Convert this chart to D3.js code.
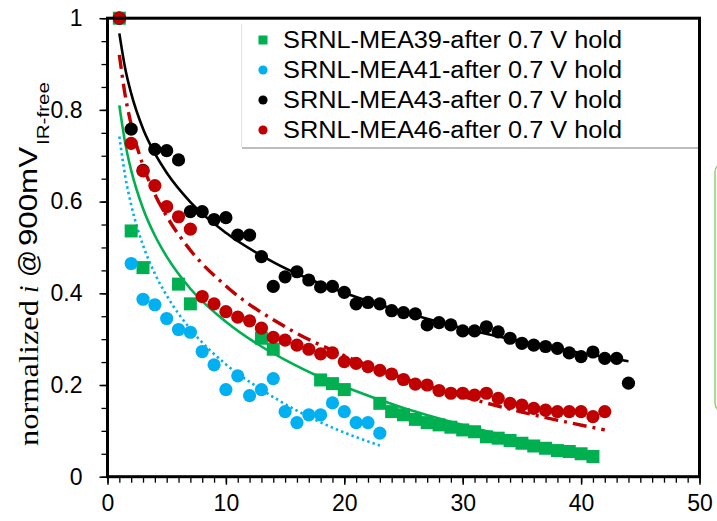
<!DOCTYPE html>
<html><head><meta charset="utf-8">
<script src="https://cdn.jsdelivr.net/npm/d3@7"></script>
<style>html,body{margin:0;padding:0;background:#fff;}svg{display:block;}</style>
</head><body>
<svg id="chart" width="717" height="521"></svg>
<script>
// ---- data ----
const seriesNames = ["SRNL-MEA39-after 0.7 V hold","SRNL-MEA41-after 0.7 V hold","SRNL-MEA43-after 0.7 V hold","SRNL-MEA46-after 0.7 V hold"];
const mea39X = [1,2,3,6,7,13,14,18,19,20,23,24,25,26,27,28,29,30,31,32,33,34,35,36,37,38,39,40,41];
const mea39Y = [1.0,0.536,0.456,0.42,0.377,0.302,0.278,0.211,0.203,0.19,0.16,0.142,0.135,0.125,0.118,0.113,0.108,0.102,0.098,0.087,0.084,0.079,0.073,0.067,0.062,0.057,0.055,0.05,0.044];
const mea41X = [1,2,3,4,5,6,7,8,9,10,11,12,13,14,15,16,17,18,19,20,21,22,23];
const mea41Y = [1.0,0.465,0.387,0.375,0.345,0.321,0.315,0.273,0.244,0.19,0.22,0.177,0.19,0.214,0.142,0.118,0.135,0.135,0.161,0.142,0.118,0.118,0.095];
const mea43X = [1,2,3,4,5,6,7,8,9,10,11,12,13,14,15,16,17,18,19,20,21,22,23,24,25,26,27,28,29,30,31,32,33,34,35,36,37,38,39,40,41,42,43,44];
const mea43Y = [1.0,0.758,0.668,0.714,0.711,0.691,0.578,0.578,0.561,0.565,0.527,0.527,0.48,0.415,0.436,0.447,0.429,0.414,0.415,0.402,0.377,0.38,0.377,0.362,0.358,0.355,0.331,0.336,0.331,0.318,0.318,0.327,0.316,0.302,0.291,0.287,0.284,0.28,0.27,0.262,0.272,0.258,0.258,0.204];
const mea46X = [1,2,3,4,5,6,7,8,9,10,11,12,13,14,15,16,17,18,19,20,21,22,23,24,25,26,27,28,29,30,31,32,33,34,35,36,37,38,39,40,41,42];
const mea46Y = [1.0,0.727,0.667,0.635,0.589,0.567,0.54,0.393,0.377,0.36,0.348,0.34,0.324,0.304,0.298,0.287,0.278,0.268,0.27,0.251,0.247,0.24,0.232,0.224,0.212,0.202,0.2,0.188,0.182,0.182,0.178,0.182,0.171,0.16,0.156,0.149,0.145,0.142,0.142,0.142,0.131,0.142];
// trend lines, values
const trend39X = [1,1.5,2,3,4,5,7,10,13,15,18,20,25,30,35,41];
const trend39Y = [0.81,0.727,0.668,0.585,0.526,0.48,0.41,0.338,0.284,0.255,0.217,0.196,0.15,0.113,0.081,0.049];
const trend41X = [1,1.5,2,3,4,5,7,10,13,16,19,23];
const trend41Y = [0.742,0.655,0.593,0.505,0.443,0.395,0.322,0.245,0.19,0.144,0.107,0.068];
const trend43X = [1,1.5,2,3,4,5,7,10,14,20,25,30,35,40,44];
const trend43Y = [0.967,0.89,0.836,0.759,0.705,0.663,0.599,0.532,0.468,0.401,0.359,0.324,0.295,0.27,0.252];
const trend46X = [1,1.5,2,3,4,5,7,10,15,20,25,30,35,42];
const trend46Y = [0.92,0.831,0.768,0.679,0.616,0.568,0.494,0.416,0.327,0.264,0.215,0.175,0.141,0.102];
const xMajorTicks = [0,10,20,30,40,50];
const yMajorTicks = [0,0.2,0.4,0.6,0.8,1];
const yTickLabels = ["0","0.2","0.4","0.6","0.8","1"];

const colors = ["#00b050","#00b0f0","#000000","#c00000"];

const svg = d3.select("#chart");
const x = d3.scaleLinear().domain([0,50]).range([107.5,699.5]);
const y = d3.scaleLinear().domain([0,1]).range([476.7,18.2]);

// decorative green box at right edge
svg.append("rect").attr("x",715).attr("y",163).attr("width",40).attr("height",249).attr("rx",9)
  .attr("fill","none").attr("stroke","#8fd16f").attr("stroke-width",1.5);

// axes
const fontSans = "'Liberation Sans', Arial, sans-serif";
const fontSerif = "'Liberation Serif', 'Times New Roman', serif";
const xMinor = d3.axisBottom(x).tickValues(d3.range(0,51,1)).tickSize(6).tickFormat("");
svg.append("g").attr("transform",`translate(0,${y(0)})`).call(xMinor)
  .call(g=>g.select(".domain").remove()).selectAll("line").attr("stroke","#000").attr("stroke-width",1.3);
const xMajor = d3.axisBottom(x).tickValues(xMajorTicks).tickSize(8).tickPadding(10).tickFormat(d3.format("d"));
svg.append("g").attr("transform",`translate(0,${y(0)})`).call(xMajor)
  .call(g=>g.select(".domain").remove())
  .call(g=>g.selectAll("line").attr("stroke","#000").attr("stroke-width",1.5))
  .call(g=>g.selectAll("text").attr("font-family",fontSans).attr("font-size",23).attr("fill","#000"));

const yMinor = d3.axisLeft(y).tickValues(d3.range(0,21).map(i=>i*0.05)).tickSize(6).tickFormat("");
svg.append("g").attr("transform",`translate(${x(0)},0)`).call(yMinor)
  .call(g=>g.select(".domain").remove()).selectAll("line").attr("stroke","#000").attr("stroke-width",1.3);
const yMajor = d3.axisLeft(y).tickValues(yMajorTicks).tickSize(8).tickPadding(17)
  .tickFormat((d,i)=>yTickLabels[i]);
svg.append("g").attr("transform",`translate(${x(0)},0)`).call(yMajor)
  .call(g=>g.select(".domain").remove())
  .call(g=>g.selectAll("line").attr("stroke","#000").attr("stroke-width",1.5))
  .call(g=>g.selectAll("text").attr("font-family",fontSans).attr("font-size",23).attr("fill","#000"));

// legend box (behind the markers)
const lg = svg.append("g");
lg.append("rect").attr("x",242).attr("y",26).attr("width",457).attr("height",123).attr("fill","#bdbdbd");
lg.append("rect").attr("x",241).attr("y",24).attr("width",458).attr("height",123).attr("fill","#fff");
lg.append("line").attr("x1",241.5).attr("x2",241.5).attr("y1",24).attr("y2",147).attr("stroke","#e2e2e2");

// trend lines
const line = d3.line().x(d=>x(d[0])).y(d=>y(d[1])).curve(d3.curveMonotoneX);
const trends = [
  {xs:trend39X, ys:trend39Y, c:colors[0], w:2.6, dash:null},
  {xs:trend41X, ys:trend41Y, c:colors[1], w:2.6, dash:"2.4 3.2"},
  {xs:trend43X, ys:trend43Y, c:colors[2], w:2.6, dash:null},
  {xs:trend46X, ys:trend46Y, c:colors[3], w:3.4, dash:"14 6 3 6"}
];
trends.forEach(t=>{
  svg.append("path").datum(t.xs.map((v,i)=>[v,t.ys[i]]))
    .attr("d",line).attr("fill","none").attr("stroke",t.c).attr("stroke-width",t.w)
    .attr("stroke-dasharray",t.dash);
});

// markers
const sq = 13, r = 6.6;
svg.append("g").selectAll("rect").data(mea39X.map((v,i)=>[v,mea39Y[i]])).join("rect")
  .attr("x",d=>x(d[0])-sq/2).attr("y",d=>y(d[1])-sq/2).attr("width",sq).attr("height",sq).attr("fill",colors[0]);
[[mea41X,mea41Y,colors[1]],[mea43X,mea43Y,colors[2]],[mea46X,mea46Y,colors[3]]].forEach(([xs,ys,c])=>{
  svg.append("g").selectAll("circle").data(xs.map((v,i)=>[v,ys[i]])).join("circle")
    .attr("cx",d=>x(d[0])).attr("cy",d=>y(d[1])).attr("r",r).attr("fill",c);
});

// frame
svg.append("rect").attr("x",x(0)).attr("y",y(1)).attr("width",x(50)-x(0)).attr("height",y(0)-y(1))
  .attr("fill","none").attr("stroke","#000").attr("stroke-width",3);

// legend content
const rowY = [40,70,100,130];
seriesNames.forEach((name,i)=>{
  const g = svg.append("g");
  if(i===0){
    g.append("rect").attr("x",263-4.5).attr("y",rowY[i]-4.5).attr("width",9).attr("height",9).attr("fill",colors[i]);
  } else {
    g.append("circle").attr("cx",263).attr("cy",rowY[i]).attr("r",4.6).attr("fill",colors[i]);
  }
  g.append("text").attr("x",283).attr("y",rowY[i]).attr("dy","0.36em")
    .attr("font-family",fontSans).attr("font-size",23).attr("fill","#000")
    .attr("textLength",339).attr("lengthAdjust","spacingAndGlyphs").text(name);
});

// y axis title (pieces placed along the rotated baseline)
const titleParts = [
  {t:"normalized", font:fontSerif, size:27, style:"normal", bx:38, start:446, len:146},
  {t:"i", font:fontSerif, size:27, style:"italic", bx:38, start:293, len:null},
  {t:"@", font:fontSans, size:25, style:"normal", bx:37, start:277, len:27},
  {t:"900mV", font:fontSans, size:26, style:"normal", bx:37, start:246, len:99},
  {t:"IR-free", font:fontSans, size:16, style:"normal", bx:48.5, start:145, len:63}
];
titleParts.forEach(p=>{
  const el = svg.append("text").attr("transform",`translate(${p.bx},${p.start}) rotate(-90)`)
    .attr("font-family",p.font).attr("font-size",p.size).attr("font-style",p.style).attr("fill","#000").text(p.t);
  if(p.len) el.attr("textLength",p.len).attr("lengthAdjust","spacingAndGlyphs");
});
</script>
</body></html>
